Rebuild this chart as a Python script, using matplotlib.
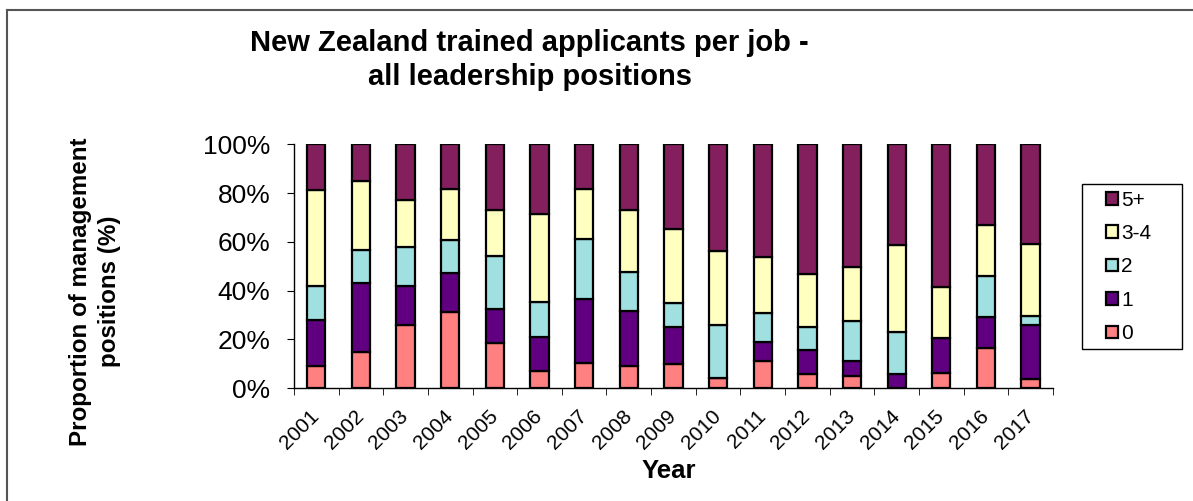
import matplotlib
matplotlib.use("Agg")
import matplotlib.pyplot as plt
from matplotlib.lines import Line2D
from matplotlib.patches import Rectangle
from matplotlib.ticker import PercentFormatter, FixedLocator
import numpy as np

plt.rcParams['font.family'] = ['Liberation Sans', 'DejaVu Sans']

years = ['2001', '2002', '2003', '2004', '2005', '2006', '2007', '2008', '2009',
         '2010', '2011', '2012', '2013', '2014', '2015', '2016', '2017']

# share of positions (%) by number of NZ-trained applicants per job
zero = [9.2, 15.0, 26.0, 31.4, 18.7, 7.1, 10.5, 9.2, 10.0,
        4.1, 11.3, 5.9, 5.2, 0.0, 6.4, 16.4, 3.7]
one = [18.7, 28.0, 15.9, 16.0, 13.7, 14.1, 26.0, 22.5, 15.0,
       0.0, 7.8, 9.6, 6.0, 5.7, 14.4, 13.0, 22.3]
two = [14.0, 13.7, 16.2, 13.4, 21.8, 14.3, 24.8, 16.1, 10.1,
       21.7, 11.6, 9.6, 16.5, 17.5, 0.0, 16.6, 3.8]
three_four = [39.4, 28.1, 19.1, 20.8, 18.9, 35.9, 20.4, 25.1, 30.1,
              30.6, 23.0, 21.9, 22.2, 35.5, 20.6, 20.8, 29.4]
five_plus = [18.7, 15.2, 22.8, 18.4, 26.9, 28.6, 18.3, 27.1, 34.8,
             43.6, 46.3, 53.1, 50.1, 41.3, 58.6, 33.2, 40.8]

series = [('0', zero, '#FF8080'),
          ('1', one, '#600080'),
          ('2', two, '#A0E0E0'),
          ('3-4', three_four, '#FFFFC0'),
          ('5+', five_plus, '#841F5E')]

W, H = 1193, 501
fig = plt.figure(figsize=(W / 100, H / 100), dpi=100)
ax = fig.add_axes([0.2464, 0.2250, 0.6362, 0.4870])

x = np.arange(len(years))
bottom = np.zeros(len(years))
handles = []
for name, vals, col in series:
    vals = np.array(vals)
    b = ax.bar(x, vals, 0.41, bottom=bottom, color=col, edgecolor='black',
               linewidth=1.6, label=name)
    handles.append(b)
    bottom = bottom + vals

ax.set_xlim(-0.5, len(years) - 0.5)
ax.set_ylim(0, 100)
ax.yaxis.set_major_locator(FixedLocator([0, 20, 40, 60, 80, 100]))
ax.yaxis.set_major_formatter(PercentFormatter(decimals=0))
ax.set_xticks(x)
ax.set_xticklabels(years, rotation=45, ha='right', va='center',
                   rotation_mode='anchor', fontsize=15)
ax.set_xticks(np.arange(-0.5, len(years)), minor=True)
ax.tick_params(axis='x', which='major', length=0, pad=18)
ax.tick_params(axis='x', which='minor', length=5, direction='out', color='black')
ax.tick_params(axis='y', length=5, direction='out', labelsize=19, pad=12)

for s in ['top', 'right']:
    ax.spines[s].set_visible(False)
for s in ['left', 'bottom']:
    ax.spines[s].set_color('black')
    ax.spines[s].set_linewidth(1.0)

fig.text(0.561, 1 - 477.7 / H, 'Year', ha='center', va='baseline',
         fontsize=18.5, fontweight='bold')

fig.text(0.444, 0.880, 'New Zealand trained applicants per job -\nall leadership positions',
         ha='center', va='center', fontsize=21, fontweight='bold', linespacing=1.3)
fig.text(0.0796, 0.418, 'Proportion of management\npositions (%)', rotation=90,
         ha='center', va='center', fontsize=17.4, fontweight='bold', linespacing=1.35)

# legend box drawn separately so its size matches the original
fig.add_artist(Rectangle((1082 / W, 1 - 349 / H), 100 / W, 165 / H,
                         transform=fig.transFigure, facecolor='white',
                         edgecolor='black', linewidth=1.0, zorder=2))
leg = fig.legend(handles[::-1], [s[0] for s in series][::-1],
                 loc='center left', bbox_to_anchor=(1101 / W, 1 - 267 / H),
                 fontsize=15, frameon=False,
                 handlelength=0.55, handleheight=0.55, handletextpad=0.15,
                 labelspacing=0.69, borderpad=0.26, borderaxespad=0)
leg.set_zorder(3)
for h in leg.legend_handles:
    h.set_linewidth(1.6)

# outer chart border (top and left edges visible)
fig.add_artist(Line2D([7 / W, 1.0], [1 - 10 / H, 1 - 10 / H],
                      transform=fig.transFigure, color='#555555', linewidth=1.5))
fig.add_artist(Line2D([7 / W, 7 / W], [0.0, 1 - 10 / H],
                      transform=fig.transFigure, color='#555555', linewidth=1.5))

fig.savefig('out.png', dpi=100)
